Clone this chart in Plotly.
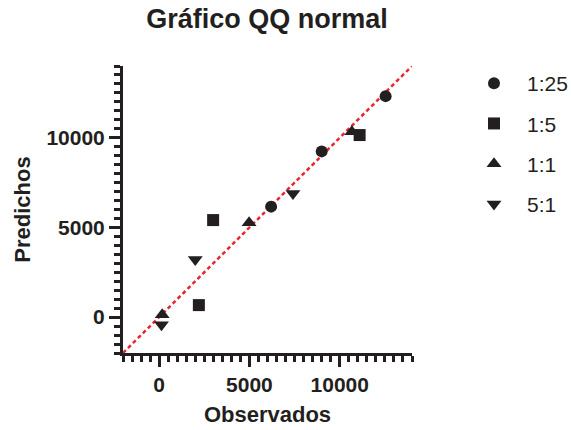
import plotly.graph_objects as go

# Observed vs predicted quantiles for each dilution ratio
series_names = ["1:25", "1:5", "1:1", "5:1"]
observed_125 = [6200, 9000, 12540]
predicted_125 = [6160, 9240, 12320]
observed_15 = [2200, 2990, 11100]
predicted_15 = [670, 5410, 10150]
observed_11 = [170, 4980, 10670]
predicted_11 = [130, 5260, 10340]
observed_51 = [130, 2000, 7410]
predicted_51 = [-430, 3210, 6890]

# Identity reference line endpoints (y = x)
identity = [-2000, 14000]

observed = [observed_125, observed_15, observed_11, observed_51]
predicted = [predicted_125, predicted_15, predicted_11, predicted_51]
symbols = ["circle", "square", "triangle-up", "triangle-down"]
sizes = [12, 12, 13, 13]

ink = "#231f20"
font_family = "Arial, Liberation Sans, sans-serif"

fig = go.Figure()

fig.add_trace(go.Scatter(
    x=identity, y=identity, mode="lines",
    line=dict(color="#e8262d", width=2.5, dash="4px,3px"),
    showlegend=False, hoverinfo="skip",
))

for name, xs, ys, sym, sz in zip(series_names, observed, predicted, symbols, sizes):
    fig.add_trace(go.Scatter(
        x=xs, y=ys, mode="markers", name=name, legendgroup=name,
        marker=dict(symbol=sym, size=sz, color=ink, line=dict(width=0)),
    ))

axis_common = dict(
    range=[-2000, 14000],
    tick0=0, dtick=5000, tickformat="d",
    showline=True, linecolor=ink, linewidth=3,
    ticks="outside", ticklen=11, tickwidth=3, tickcolor=ink,
    showgrid=False, zeroline=False, automargin=False,
    tickfont=dict(family=font_family, size=21, color=ink, weight="bold"),
    minor=dict(dtick=500, ticks="outside", ticklen=6, tickwidth=2.5,
               tickcolor=ink, showgrid=False),
)

fig.update_layout(
    width=571, height=430,
    margin=dict(l=123, r=159, t=66, b=77, autoexpand=False),
    paper_bgcolor="white", plot_bgcolor="white",
    title=dict(
        text="Gráfico QQ normal",
        font=dict(family=font_family, size=27, color=ink, weight="bold"),
        x=267 / 571, xanchor="center", y=1 - 19 / 430, yanchor="middle",
    ),
    xaxis=dict(
        **axis_common,
        title=dict(text="Observados", standoff=12,
                   font=dict(family=font_family, size=22, color=ink, weight="bold")),
    ),
    yaxis=dict(
        **axis_common,
        title=dict(text="Predichos", standoff=10,
                   font=dict(family=font_family, size=22, color=ink, weight="bold")),
    ),
    legend=dict(
        xref="container", yref="container",
        x=461 / 571, xanchor="left", y=1 - 63 / 430, yanchor="top",
        font=dict(family=font_family, size=21, color=ink),
        tracegroupgap=10, itemwidth=56,
        bgcolor="rgba(0,0,0,0)",
    ),
    showlegend=True,
)

fig.write_html("out.html")
